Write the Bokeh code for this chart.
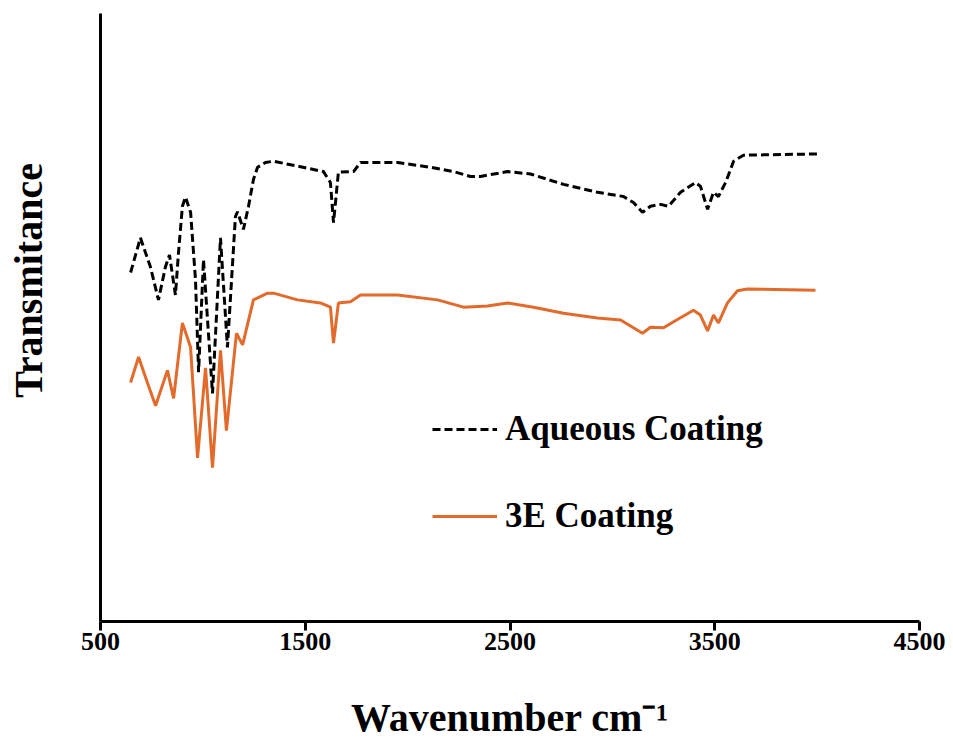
import math
from bokeh.plotting import figure
from bokeh.layouts import row
from bokeh.models import Range1d, FixedTicker, Legend, LegendItem
from bokeh.core.properties import value
from bokeh.embed import file_html
from bokeh.resources import INLINE

# ---- data ----
aq_wn = [647, 695, 744, 783, 817, 837, 866, 881, 900, 915,
         940, 964, 979, 1003, 1047, 1086, 1120, 1159, 1169, 1198,
         1223, 1247, 1267, 1306, 1345, 1462, 1589, 1623, 1638, 1662,
         1736, 1770, 1951, 2112, 2224, 2307, 2356, 2488, 2600, 2761,
         2927, 3054, 3103, 3147, 3186, 3235, 3274, 3333, 3406, 3430,
         3465, 3494, 3518, 3553, 3592, 3640, 4002]
aq_t = [57.4, 63.1, 58.3, 52.9, 58.3, 60.3, 53.7, 60.7, 68.3, 69.8,
        67.3, 56.2, 41.0, 59.5, 37.5, 63.1, 45.1, 66.6, 67.4, 64.5,
        68.3, 72.7, 74.7, 75.5, 75.7, 74.9, 74.0, 72.2, 65.6, 73.9,
        74.0, 75.5, 75.5, 74.7, 74.0, 73.2, 73.2, 74.0, 73.6, 71.9,
        70.6, 69.9, 68.9, 67.3, 68.3, 68.6, 68.3, 70.6, 72.2, 71.6,
        67.8, 70.6, 69.9, 72.2, 75.7, 76.7, 76.9]

e3_wn = [647, 686, 730, 769, 827, 857, 900, 940, 974, 1013,
         1047, 1086, 1115, 1164, 1194, 1247, 1316, 1345, 1462, 1574,
         1623, 1638, 1662, 1721, 1770, 1951, 2146, 2273, 2390, 2488,
         2615, 2761, 2927, 3040, 3103, 3147, 3186, 3250, 3299, 3396,
         3430, 3465, 3494, 3518, 3562, 3611, 3660, 3992]
e3_t = [39.3, 43.5, 39.2, 35.5, 41.3, 36.7, 49.1, 45.1, 26.9, 41.7,
        25.3, 44.6, 31.4, 47.4, 45.5, 52.9, 54.0, 54.0, 52.9, 52.4,
        51.7, 45.8, 52.4, 52.6, 53.7, 53.7, 52.9, 51.7, 51.9, 52.4,
        51.7, 50.7, 49.9, 49.6, 48.3, 47.4, 48.4, 48.3, 49.3, 51.2,
        50.4, 47.8, 50.4, 49.1, 52.4, 54.4, 54.7, 54.5]

x_ticks = [500, 1500, 2500, 3500, 4500]
series_names = ["Aqueous Coating", "3E Coating"]
x_title = "Wavenumber cm\u207b\u00b9"
y_title = "Transmitance"

FONT = "Liberation Serif"
ORANGE = "#E26B2C"
H = 747

# ---- narrow left strip holding the rotated y title ----
side = figure(width=80, height=H, output_backend="svg", toolbar_location=None,
              x_range=Range1d(0, 80), y_range=Range1d(0, H),
              x_axis_type=None, y_axis_type=None, min_border=0)
side.outline_line_color = None
side.grid.visible = False
side.background_fill_color = "white"
side.border_fill_color = "white"
side.text(x=[28], y=[H - 328], text=[y_title], angle=math.pi / 2,
          text_align="center", text_baseline="middle",
          text_font=value(FONT), text_font_style="bold",
          text_font_size="40px", text_color="black")

# ---- main chart ----
p = figure(width=953 - 80, height=H, output_backend="svg", toolbar_location=None,
           x_range=Range1d(500, 4500), y_range=Range1d(0, 100),
           min_border_left=20, min_border_right=34, min_border_top=13,
           min_border_bottom=126)
p.outline_line_color = None
p.grid.visible = False
p.background_fill_color = "white"
p.border_fill_color = "white"

r1 = p.line(aq_wn, aq_t, line_color="black", line_width=3, line_dash="8 4")
r2 = p.line(e3_wn, e3_t, line_color=ORANGE, line_width=3)

# x axis
xa = p.xaxis[0]
xa.ticker = FixedTicker(ticks=x_ticks)
xa.minor_tick_line_color = None
xa.major_tick_in = 0
xa.major_tick_out = 9
xa.major_tick_line_width = 3
xa.axis_line_width = 3
xa.major_label_text_font = FONT
xa.major_label_text_font_style = "bold"
xa.major_label_text_font_size = "26px"
xa.major_label_text_color = "black"
xa.major_label_standoff = 2
xa.axis_label = x_title
xa.axis_label_text_font = FONT
xa.axis_label_text_font_style = "bold"
xa.axis_label_text_font_size = "40px"
xa.axis_label_text_color = "black"
xa.axis_label_standoff = 42

# y axis line (no ticks)
ya = p.yaxis[0]
ya.ticker = FixedTicker(ticks=[])
ya.minor_tick_line_color = None
ya.major_tick_line_color = None
ya.major_label_text_font_size = "0px"
ya.axis_line_width = 3

legend = Legend(items=[LegendItem(label=series_names[0], renderers=[r1]),
                       LegendItem(label=series_names[1], renderers=[r2])],
                location=(332, 85), orientation="vertical")
legend.label_text_font = FONT
legend.label_text_font_style = "bold"
legend.label_text_font_size = "35px"
legend.label_text_color = "black"
legend.glyph_width = 65
legend.label_standoff = 8
legend.spacing = 47
legend.padding = 0
legend.margin = 0
legend.border_line_color = None
legend.background_fill_alpha = 0
p.add_layout(legend)

layout = row(side, p, spacing=0)
open("out.html", "w").write(file_html(layout, INLINE))
